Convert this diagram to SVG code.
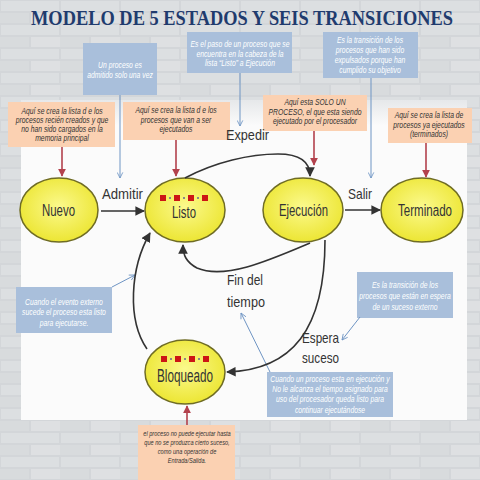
<svg xmlns="http://www.w3.org/2000/svg" width="480" height="480" viewBox="0 0 480 480">
<defs>
<style>
.title{font-family:"Liberation Serif",serif;font-size:20px;font-weight:bold;fill:#1f3b6e;text-anchor:middle}
.nl{font-family:"Liberation Sans",Arial,sans-serif;font-size:16px;fill:#333}
.tl{font-family:"Liberation Sans",Arial,sans-serif;font-size:15px;fill:#333}
.ot{font-family:"Liberation Sans",Arial,sans-serif;font-size:8.5px;font-style:italic;fill:#333;text-anchor:middle}
.bt{font-family:"Liberation Sans",Arial,sans-serif;font-size:8.5px;font-style:italic;fill:#fff;text-anchor:middle}
.obox{fill:#fbd1b2}
.bbox{fill:#a9bfdb}
.node{fill:url(#yg);stroke:#6f6c24;stroke-width:1.5}
.con{fill:none;stroke:#333;stroke-width:1.6}
.red{fill:none;stroke:#b3424d;stroke-width:1.6}
.blue{fill:none;stroke:#6f95c4;stroke-width:1}
.sq{fill:#cc1515}
.dt{fill:#888}
</style>
<radialGradient id="yg" cx="50%" cy="45%" r="60%">
<stop offset="0" stop-color="#fbf98c"/>
<stop offset="1" stop-color="#ebe42c"/>
</radialGradient>
<linearGradient id="pg" x1="0" y1="0" x2="0" y2="1">
<stop offset="0" stop-color="#e6e8ea"/>
<stop offset="0.08" stop-color="#fbfbfb"/>
<stop offset="1" stop-color="#fbfbfb"/>
</linearGradient>
<pattern id="brick" width="60" height="24" patternUnits="userSpaceOnUse">
<rect width="60" height="24" fill="#d3d6d9"/>
<rect x="1" y="1" width="58" height="10" fill="#dcdfe1"/>
<rect x="-29" y="13" width="58" height="10" fill="#d8dbdd"/>
<rect x="31" y="13" width="58" height="10" fill="#dee0e2"/>
</pattern>
<marker id="aB" viewBox="0 0 10 10" refX="9" refY="5" markerWidth="6" markerHeight="6" orient="auto">
<path d="M0,0 L10,5 L0,10 z" fill="#333"/>
</marker>
<marker id="aR" viewBox="0 0 10 10" refX="9" refY="5" markerWidth="5" markerHeight="5" orient="auto">
<path d="M0,0 L10,5 L0,10 z" fill="#b3424d"/>
</marker>
<marker id="aL" viewBox="0 0 10 10" refX="9" refY="5" markerWidth="7" markerHeight="7" orient="auto">
<path d="M1,1 L9,5 L1,9" fill="none" stroke="#6f95c4" stroke-width="1.2"/>
</marker>
</defs>

<rect width="480" height="480" fill="url(#brick)"/>
<rect x="21" y="100" width="446" height="320" fill="url(#pg)"/>

<text class="title" transform="translate(242,25) scale(0.92,1)" x="0" y="0">MODELO DE 5 ESTADOS Y SEIS TRANSICIONES</text>

<g id="node-nuevo">
<ellipse class="node" cx="59" cy="210" rx="39" ry="32"/>
<text class="nl" x="42" y="216" textLength="33" lengthAdjust="spacingAndGlyphs">Nuevo</text>
</g>
<g id="node-listo">
<ellipse class="node" cx="185" cy="210" rx="40" ry="32"/>
<rect class="sq" x="160" y="195" width="6" height="6"/>
<rect class="sq" x="174" y="195" width="6" height="6"/>
<rect class="sq" x="188" y="195" width="6" height="6"/>
<rect class="sq" x="202" y="195" width="6" height="6"/>
<rect class="dt" x="169" y="197" width="2" height="2"/>
<rect class="dt" x="183" y="197" width="2" height="2"/>
<rect class="dt" x="197" y="197" width="2" height="2"/>
<text class="nl" x="172" y="218" textLength="24" lengthAdjust="spacingAndGlyphs">Listo</text>
</g>
<g id="node-ejecucion">
<ellipse class="node" cx="303" cy="210" rx="40" ry="32"/>
<text class="nl" x="279" y="216" textLength="49" lengthAdjust="spacingAndGlyphs">Ejecución</text>
</g>
<g id="node-terminado">
<ellipse class="node" cx="422" cy="210" rx="41" ry="32"/>
<text class="nl" x="398" y="216" textLength="54" lengthAdjust="spacingAndGlyphs">Terminado</text>
</g>
<g id="node-bloqueado">
<ellipse class="node" cx="185" cy="372" rx="40" ry="32"/>
<rect class="sq" x="161" y="356" width="6" height="6"/>
<rect class="sq" x="175" y="356" width="6" height="6"/>
<rect class="sq" x="189" y="356" width="6" height="6"/>
<rect class="sq" x="203" y="356" width="6" height="6"/>
<rect class="dt" x="170" y="358" width="2" height="2"/>
<rect class="dt" x="184" y="358" width="2" height="2"/>
<rect class="dt" x="198" y="358" width="2" height="2"/>
<text class="nl" x="157" y="382" textLength="56" lengthAdjust="spacingAndGlyphs" style="font-size:18px">Bloqueado</text>
</g>

<g id="note-nuevo">
<rect class="obox" x="8" y="102" width="107" height="45"/>
<text class="ot" transform="translate(62,0) scale(0.8,1)"><tspan x="0" y="114">Aquí se crea la lista d e los</tspan><tspan x="0" y="123">procesos recién creados y que</tspan><tspan x="0" y="132">no han sido cargados en la</tspan><tspan x="0" y="141">memoria principal</tspan></text>
<line class="red" x1="62" y1="147" x2="62" y2="176" marker-end="url(#aR)"/>
</g>
<g id="note-listo">
<rect class="obox" x="123" y="102" width="107" height="38"/>
<text class="ot" transform="translate(176,0) scale(0.8,1)"><tspan x="0" y="113">Aquí se crea la lista d e los</tspan><tspan x="0" y="123">procesos que van a ser</tspan><tspan x="0" y="132">ejecutados</tspan></text>
<line class="red" x1="176" y1="140" x2="176" y2="176" marker-end="url(#aR)"/>
</g>
<g id="note-ejecucion">
<rect class="obox" x="263" y="95" width="104" height="36"/>
<text class="ot" transform="translate(315,0) scale(0.8,1)"><tspan x="0" y="105">Aquí esta SOLO UN</tspan><tspan x="0" y="115">PROCESO, el que esta siendo</tspan><tspan x="0" y="124">ejecutado por el procesador</tspan></text>
<line class="red" x1="314" y1="131" x2="314" y2="165" marker-end="url(#aR)"/>
</g>
<g id="note-terminado">
<rect class="obox" x="388" y="108" width="84" height="35"/>
<text class="ot" transform="translate(429,0) scale(0.8,1)"><tspan x="0" y="118">Aquí se crea la lista de</tspan><tspan x="0" y="128">procesos ya ejecutados</tspan><tspan x="0" y="137">(terminados)</tspan></text>
<line class="red" x1="426" y1="143" x2="426" y2="177" marker-end="url(#aR)"/>
</g>
<g id="note-bloqueado">
<rect class="obox" x="138" y="425" width="97" height="55"/>
<text class="ot" transform="translate(187,0) scale(0.78,1)" style="font-size:7.2px"><tspan x="0" y="436">el proceso no puede ejecutar hasta</tspan><tspan x="0" y="445">que no se produzca cierto suceso,</tspan><tspan x="0" y="454">como una operación de</tspan><tspan x="0" y="463">Entrada/Salida.</tspan></text>
<line class="red" x1="187" y1="425" x2="187" y2="406" marker-end="url(#aR)"/>
</g>

<g id="note-admitir">
<rect class="bbox" x="83" y="43" width="74" height="52"/>
<text class="bt" transform="translate(120,0) scale(0.8,1)"><tspan x="0" y="68">Un proceso es</tspan><tspan x="0" y="78">admitido solo una vez</tspan></text>
<line class="blue" x1="120" y1="95" x2="120" y2="178" marker-end="url(#aL)"/>
</g>
<g id="note-expedir">
<rect class="bbox" x="187" y="32" width="105" height="41"/>
<text class="bt" transform="translate(240,0) scale(0.8,1)"><tspan x="0" y="47">Es el paso de un proceso que se</tspan><tspan x="0" y="57">encuentra en la cabeza de la</tspan><tspan x="0" y="66">lista “Listo” a Ejecución</tspan></text>
<line class="blue" x1="240" y1="73" x2="240" y2="126" marker-end="url(#aL)"/>
</g>
<g id="note-salir">
<rect class="bbox" x="323" y="32" width="95" height="46"/>
<text class="bt" transform="translate(370,0) scale(0.8,1)"><tspan x="0" y="43">Es la transición de los</tspan><tspan x="0" y="53">procesos que han sido</tspan><tspan x="0" y="63">expulsados porque han</tspan><tspan x="0" y="73">cumplido su objetivo</tspan></text>
<line class="blue" x1="371" y1="78" x2="371" y2="178" marker-end="url(#aL)"/>
</g>
<g id="note-evento">
<rect class="bbox" x="16" y="287" width="96" height="46"/>
<text class="bt" transform="translate(64,0) scale(0.8,1)"><tspan x="0" y="305">Cuando el evento externo</tspan><tspan x="0" y="315">sucede el proceso esta listo</tspan><tspan x="0" y="326">para ejecutarse.</tspan></text>
<line class="blue" x1="112" y1="287" x2="135" y2="275" marker-end="url(#aL)"/>
</g>
<g id="note-espera">
<rect class="bbox" x="357" y="272" width="96" height="46"/>
<text class="bt" transform="translate(405,0) scale(0.8,1)"><tspan x="0" y="288">Es la transición de los</tspan><tspan x="0" y="299">procesos que están en espera</tspan><tspan x="0" y="310">de un suceso externo</tspan></text>
<line class="blue" x1="360" y1="317" x2="342" y2="340" marker-end="url(#aL)"/>
</g>
<g id="note-fin">
<rect class="bbox" x="267" y="372" width="126" height="45"/>
<text class="bt" transform="translate(330,0) scale(0.8,1)"><tspan x="0" y="382">Cuando un proceso esta en ejecución y</tspan><tspan x="0" y="392">No le alcanza el tiempo asignado para</tspan><tspan x="0" y="402">uso del procesador queda listo para</tspan><tspan x="0" y="413">continuar ejecutándose</tspan></text>
<line class="blue" x1="270" y1="372" x2="241" y2="313" marker-end="url(#aL)"/>
</g>

<g id="connectors">
<line class="con" x1="101" y1="211" x2="144" y2="211" marker-end="url(#aB)"/>
<line class="con" x1="345" y1="210" x2="380" y2="210" marker-end="url(#aB)"/>
<path class="con" d="M185,178 C215,162 250,154 278,154 C300,154 310,162 310,176" marker-end="url(#aB)"/>
<path class="con" d="M310,243 C270,260 225,280 197,268 C186,262 183,255 183,245" marker-end="url(#aB)"/>
<path class="con" d="M325,240 C325,330 292,370 227,372" marker-end="url(#aB)"/>
<path class="con" d="M147,349 C127,320 130,268 150,233" marker-end="url(#aB)"/>
<text class="tl" x="102" y="199" textLength="41" lengthAdjust="spacingAndGlyphs">Admitir</text>
<text class="tl" x="348" y="199" textLength="24" lengthAdjust="spacingAndGlyphs">Salir</text>
<text class="tl" x="226" y="140" textLength="43" lengthAdjust="spacingAndGlyphs">Expedir</text>
<text class="tl" x="227" y="285" textLength="36" lengthAdjust="spacingAndGlyphs">Fin del</text>
<text class="tl" x="227" y="307" textLength="38" lengthAdjust="spacingAndGlyphs">tiempo</text>
<text class="tl" x="302" y="343" textLength="37" lengthAdjust="spacingAndGlyphs">Espera</text>
<text class="tl" x="302" y="363" textLength="37" lengthAdjust="spacingAndGlyphs">suceso</text>
</g>
</svg>
